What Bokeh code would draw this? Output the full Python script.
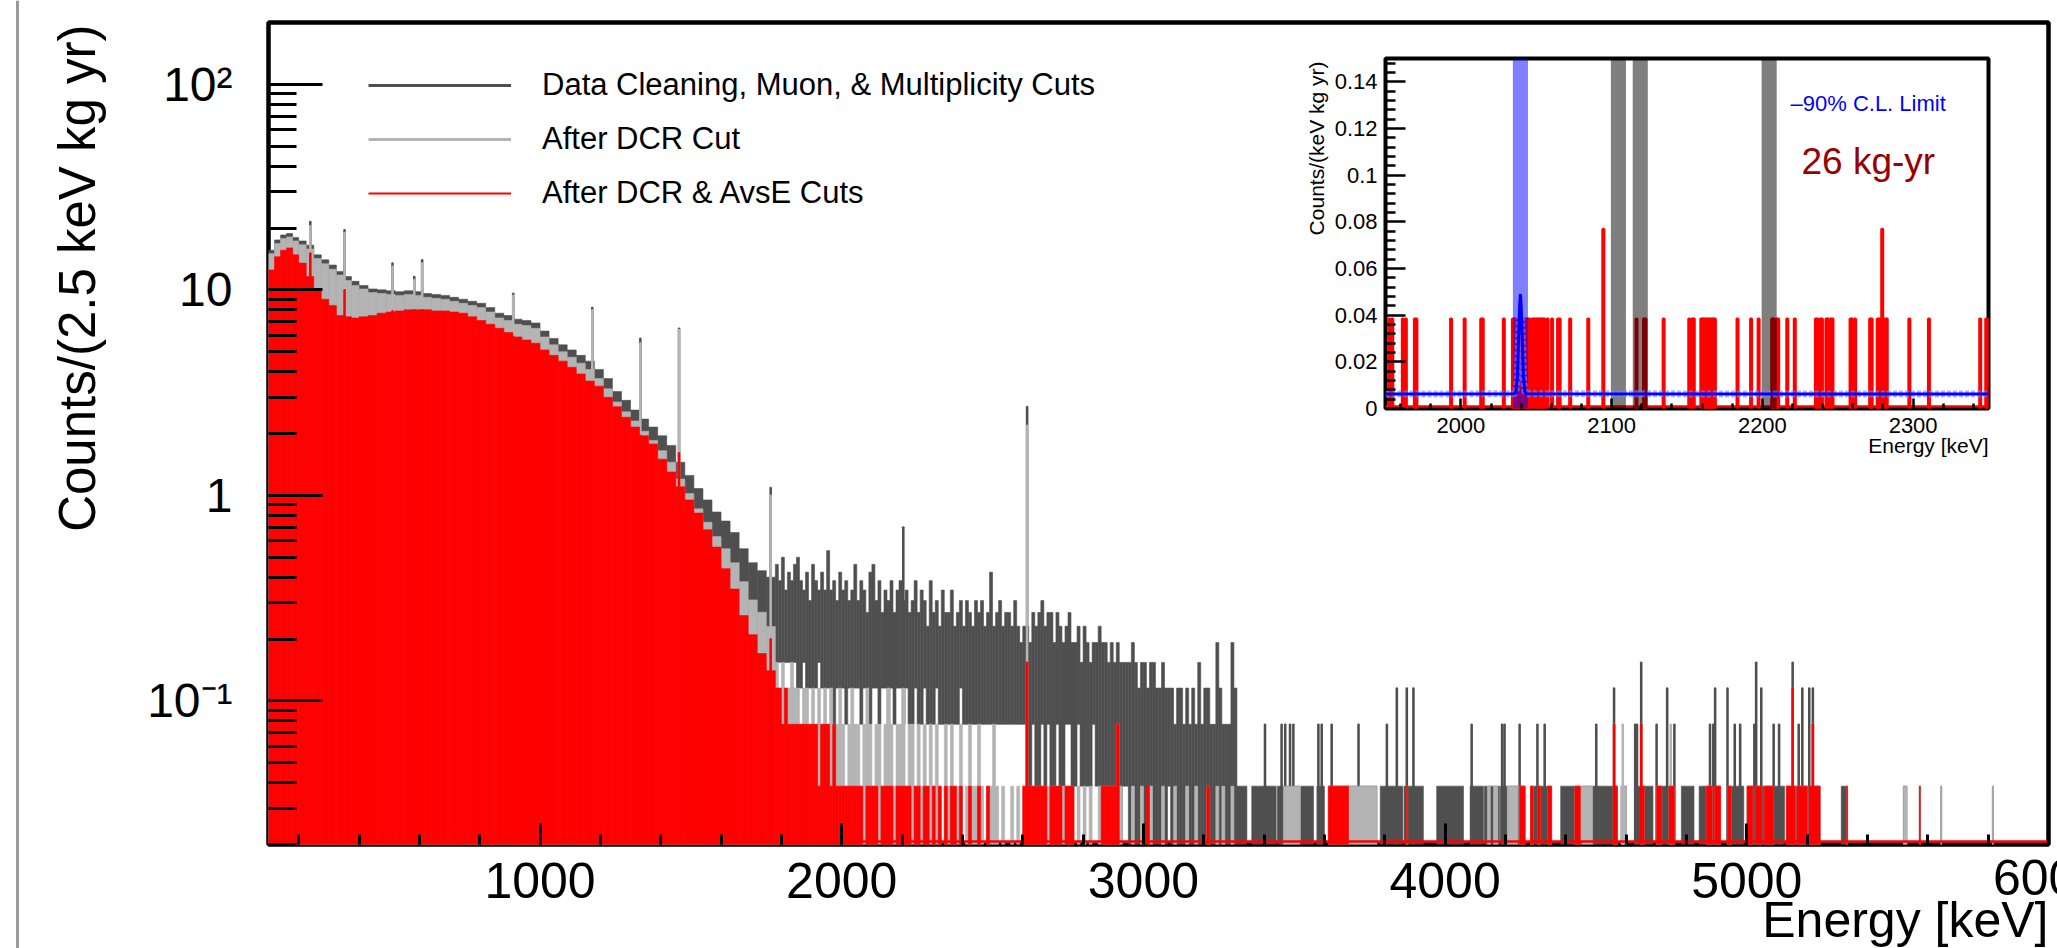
import math
from bokeh.plotting import figure
from bokeh.models import (Range1d, FixedTicker, Label, Legend, LegendItem,
                          BoxAnnotation, ColumnDataSource)
from bokeh.layouts import column
from bokeh.embed import file_html
from bokeh.resources import INLINE

FONT = "Liberation Sans"
EXPOSURE = 26.0          # kg-yr
BIN_W = 2.5              # keV, main-spectrum binning
DENSE_START = 1780.0     # keV, start of region read at 10 keV resolution
DENSE_W = 10.0
FLOOR = 1e-3             # fill floor (below the log axis minimum)

C_ALL = "#4f4f4f"
C_DCR = "#b4b4b4"
C_AVSE = "#ff0000"

# ---------------------------------------------------------------- main spectrum
# continuum below 1780 keV, counts/(2.5 keV kg yr), step edges + values
cont_edges = [100, 120, 140, 160, 180, 200, 225, 250, 275, 300, 325, 350, 375, 400,
              430, 460, 490, 520, 550, 580, 610, 640, 670, 700, 730, 760, 790, 820,
              850, 880, 910, 940, 970, 1000, 1030, 1060, 1090, 1120, 1150, 1180, 1210,
              1240, 1270, 1300, 1330, 1360, 1390, 1420, 1450, 1480, 1510, 1540, 1570,
              1600, 1630, 1660, 1690, 1720, 1750, 1780]
cont_all = [15.6, 17.5, 18.5, 18.8, 18.0, 17.3, 16.5, 14.8, 14.0, 13.2, 12.3, 11.6, 11.0,
            10.5, 10.1, 10.0, 9.9, 9.8, 9.9, 9.8, 9.6, 9.5, 9.4, 9.2, 9.0, 8.8, 8.6, 8.2,
            7.7, 7.5, 7.2, 7.1, 6.9, 6.3, 5.8, 5.4, 5.1, 4.8, 4.5, 4.1, 3.7, 3.2, 2.9,
            2.6, 2.35, 2.15, 1.95, 1.75, 1.45, 1.25, 1.08, 0.95, 0.83, 0.75, 0.66, 0.55,
            0.47, 0.43, 0.40]
cont_dcr = [15.0, 16.8, 17.8, 18.1, 17.3, 16.6, 15.8, 14.2, 13.4, 12.6, 11.8, 11.1, 10.5,
            10.1, 9.7, 9.6, 9.5, 9.4, 9.5, 9.4, 9.2, 9.1, 9.0, 8.8, 8.6, 8.4, 8.2, 7.8,
            7.3, 7.1, 6.8, 6.7, 6.5, 5.9, 5.4, 5.0, 4.7, 4.4, 4.1, 3.7, 3.3, 2.85, 2.55,
            2.3, 2.05, 1.85, 1.65, 1.45, 1.2, 1.02, 0.86, 0.74, 0.63, 0.55, 0.47, 0.38,
            0.31, 0.27, 0.23]
cont_avse = [12.5, 14.5, 15.6, 16.0, 14.8, 13.5, 11.6, 10.0, 9.0, 8.4, 7.5, 7.4, 7.3,
             7.4, 7.5, 7.7, 7.8, 7.9, 8.0, 8.0, 8.0, 7.9, 7.9, 7.8, 7.7, 7.4, 7.1, 6.8,
             6.5, 6.2, 5.9, 5.7, 5.5, 5.1, 4.8, 4.5, 4.2, 3.9, 3.6, 3.4, 3.0, 2.7, 2.4,
             2.15, 1.95, 1.78, 1.5, 1.3, 1.1, 0.95, 0.82, 0.68, 0.56, 0.44, 0.35, 0.26,
             0.21, 0.17, 0.14]

# gamma lines (single 2.5 keV bins), counts/(2.5 keV kg yr)
peak_E = [238.6, 352.0, 511.0, 583.2, 609.3, 911.2, 1173.2, 1332.5, 1460.8, 1764.5, 2204.1, 2614.5]
peak_all = [21.5, 19.6, 13.5, 11.6, 14.0, 9.6, 8.2, 5.8, 6.5, 1.09, 0.70, 2.70]
peak_dcr = [20.5, 19.0, 13.0, 11.2, 13.5, 9.4, 8.0, 5.5, 6.4, 1.00, 0.077, 2.19]
peak_avse = [15.1, 10.0, 7.9, 8.0, 8.0, 5.9, 3.4, 1.95, 1.61, 0.20, 0.038, 0.154]

# 1780-3320 keV, read per 10 keV block, in counts per 2.5 keV bin
dense_all_hi = [12, 10, 13, 9, 11, 10, 12,
                13, 10, 9, 11, 8, 12, 10, 9, 11, 9,
                14, 9, 10, 8, 11, 9, 10, 8, 9, 12,
                8, 10, 9, 7, 11, 12, 8, 10, 7, 9,
                8, 10, 7, 9, 10, 8, 9, 7, 8, 10,
                7, 9, 8, 6, 10, 7, 8, 6, 9, 7,
                7, 9, 6, 7, 8, 6, 8, 7, 6, 8,
                7, 8, 6, 7, 11, 6, 7, 8, 6, 7,
                7, 6, 8, 6, 5, 6, 6, 5, 7, 6,
                7, 8, 6, 7, 7, 5, 7, 6, 5, 6,
                7, 5, 5, 6, 4, 6, 5, 4, 5, 5,
                6, 5, 5, 4, 5, 4, 5, 4, 4, 4,
                4, 5, 4, 3, 4, 4, 3, 4, 4, 3,
                3, 4, 3, 3, 3, 2, 3, 3, 2, 3,
                2, 3, 2, 4, 2, 3, 3, 2, 2, 5,
                3, 2, 2, 2, 5, 3, 1]
dense_all_lo = [4, 4, 4, 4, 4, 4, 4,
                3, 3, 4, 3, 3, 3, 3, 4, 3, 3,
                3, 3, 2, 3, 3, 3, 2, 3, 3, 3,
                3, 2, 3, 3, 2, 3, 3, 2, 3, 3,
                2, 3, 2, 3, 3, 2, 3, 2, 2, 3,
                2, 2, 3, 2, 2, 2, 3, 2, 2, 2,
                2, 2, 2, 2, 3, 2, 2, 2, 2, 2,
                2, 2, 2, 2, 2, 2, 2, 2, 2, 2,
                2, 2, 2, 2, 2, 2, 1, 1, 2, 1,
                1, 2, 1, 2, 1, 1, 2, 1, 1, 2,
                2, 1, 1, 2, 1, 1, 1, 1, 2, 1,
                1, 1, 1, 0, 1, 1, 1, 0, 1, 1,
                0, 1, 0, 0, 1, 0, 0, 1, 0, 0,
                0, 0, 0, 1, 0, 0, 0, 0, 0, 1,
                0, 0, 1, 0, 0, 0, 0, 0, 0, 0,
                0, 0, 0, 0, 0, 0, 0]
dense_dcr = [4, 3, 4, 3, 3, 4, 3,
             3, 2, 3, 3, 2, 3, 2, 3, 2, 3,
             2, 3, 2, 2, 3, 2, 1, 2, 3, 2,
             2, 1, 2, 3, 2, 1, 2, 2, 1, 2,
             3, 2, 1, 2, 2, 3, 1, 2, 2, 1,
             2, 1, 2, 1, 2, 1, 2, 1, 0, 2,
             1, 2, 1, 1, 2, 0, 1, 2, 1, 1,
             2, 1, 0, 1, 1, 2, 1, 0, 1, 0,
             0, 1, 0, 1, 0, 1, 1, 1, 1, 1,
             1, 1, 1, 1, 1, 1, 1, 1, 1, 1,
             1, 1, 0, 1, 0, 1, 0, 1, 0, 0,
             1, 1, 1, 1, 1, 1, 2, 1, 0, 0,
             0, 1, 0, 0, 1, 0, 0, 1, 0, 0,
             0, 1, 0, 0, 0, 1, 0, 0, 0, 1,
             0, 0, 1, 0, 0, 0, 1, 0, 0, 1,
             0, 1, 0, 0, 1, 0, 0]
dense_avse = [3, 3, 2, 3, 2, 2, 2,
              2, 2, 2, 2, 2, 2, 2, 1, 2, 2,
              2, 1, 2, 1, 1, 1, 1, 1, 1, 1,
              1, 1, 0, 1, 1, 1, 1, 0, 1, 1,
              1, 1, 0, 1, 1, 1, 1, 1, 0, 1,
              1, 0, 1, 1, 0, 1, 0, 1, 0, 1,
              0, 1, 1, 0, 1, 0, 0, 1, 0, 0,
              1, 0, 0, 1, 0, 0, 0, 0, 0, 0,
              0, 0, 0, 0, 0, 1, 1, 1, 1, 1,
              1, 1, 1, 0, 1, 1, 1, 1, 0, 1,
              1, 1, 0, 0, 0, 0, 0, 0, 0, 0,
              0, 1, 1, 1, 1, 1, 2, 0, 0, 0,
              0, 0, 0, 0, 0, 0, 1, 0, 0, 0,
              0, 0, 0, 0, 0, 0, 0, 0, 0, 0,
              0, 0, 0, 0, 0, 0, 1, 0, 0, 0,
              0, 0, 0, 0, 0, 0, 0]

# sparse region above 3320 keV: runs of occupied bins (E0, E1, counts)
all_runs = [(3320, 3343, 1), (3359, 3440, 1), (3444, 3519, 1), (3522, 3564, 1),
            (3575, 3600, 1), (3613, 3680, 1), (3680, 3774, 1), (3785, 3860, 1),
            (3864, 3928, 1), (3972, 4061, 1), (4083, 4127, 1), (4130, 4180, 1),
            (4183, 4241, 1), (4247, 4265, 1), (4283, 4353, 1), (4383, 4448, 1),
            (4453, 4571, 1), (4583, 4601, 1), (4630, 4689, 1), (4701, 4760, 1),
            (4783, 4825, 1), (4842, 4913, 1), (4936, 4990, 1), (5001, 5125, 1),
            (5131, 5243, 1), (5313, 5334, 1), (5519, 5531, 1), (5572, 5575, 1),
            (5643, 5646, 1), (5814, 5817, 1)]
dcr_runs = [(3464, 3519, 1), (3613, 3680, 1), (3680, 3774, 1), (3872, 3876, 1),
            (4140, 4150, 1), (4160, 4175, 1), (4206, 4241, 1), (4247, 4265, 1),
            (4283, 4292, 1), (4306, 4316, 1), (4341, 4353, 1), (4430, 4448, 1),
            (4453, 4489, 1), (4560, 4571, 1), (4583, 4601, 1), (4648, 4660, 1),
            (4701, 4718, 1), (4742, 4760, 1), (4866, 4885, 1), (4893, 4913, 1),
            (4936, 4948, 1), (5001, 5020, 1), (5028, 5050, 1), (5058, 5089, 1),
            (5131, 5160, 1), (5166, 5200, 1), (5206, 5243, 1), (5331, 5334, 1),
            (5519, 5531, 1), (5572, 5575, 1), (5643, 5646, 1), (5814, 5817, 1)]
avse_runs = [(3613, 3680, 1), (3872, 3876, 1), (4247, 4265, 1), (4283, 4292, 1),
             (4306, 4316, 1), (4341, 4353, 1), (4430, 4448, 1), (4560, 4571, 1),
             (4648, 4660, 1), (4701, 4718, 1), (4742, 4760, 1), (4866, 4885, 1),
             (4893, 4913, 1), (4936, 4948, 1), (5001, 5020, 1), (5028, 5050, 1),
             (5058, 5089, 1), (5131, 5160, 1), (5166, 5200, 1), (5206, 5243, 1),
             (5331, 5334, 1), (5572, 5575, 1)]
# single-bin spikes (E, counts)
all_spikes = [(3403, 2), (3458, 2), (3470, 2), (3486, 2), (3497, 2), (3580, 2), (3591, 2),
              (3624, 2), (3713, 2), (3807, 2), (3840, 3), (3873, 3), (3895, 3), (4088, 2),
              (4189, 2), (4197, 2), (4247, 2), (4306, 2), (4330, 2), (4501, 2), (4560, 3),
              (4630, 2), (4636, 2), (4650, 4), (4701, 2), (4736, 3), (4760, 2), (4878, 2),
              (4889, 2), (4895, 3), (4936, 3), (4960, 2), (4978, 2), (5025, 2), (5031, 4),
              (5048, 3), (5089, 2), (5107, 2), (5152, 4), (5172, 2), (5184, 3), (5207, 3),
              (5219, 3)]
dcr_spikes = [(4560, 2), (4589, 2), (4650, 2), (4748, 2), (5152, 3), (5219, 2)]
avse_spikes = [(4560, 2), (4650, 2), (5152, 3), (5219, 2)]

# ---------------------------------------------------------------- inset (1 keV bins)
inset_E = [1952, 1954, 1961, 1963, 1969, 1970, 1993, 2002, 2013, 2014, 2028,
           2034, 2035, 2036, 2037, 2038, 2039, 2040, 2041, 2042, 2043, 2044, 2045,
           2047, 2048, 2049, 2050, 2051, 2052, 2053, 2054, 2055, 2057,
           2060, 2064, 2065, 2072, 2084, 2094, 2116, 2121, 2122, 2134,
           2151, 2153, 2154, 2159, 2160, 2161, 2162, 2163, 2164, 2165, 2166, 2167, 2168,
           2183, 2192, 2197, 2206, 2207, 2209, 2210, 2216, 2221,
           2235, 2236, 2238, 2239, 2242, 2243, 2245, 2246, 2258, 2259, 2261, 2271, 2272,
           2276, 2277, 2279, 2281, 2282, 2297, 2310, 2344, 2348, 2349]
inset_counts = [2 if e in (2094, 2279) else 1 for e in inset_E]
roi_band = (2034.5, 2044.5)
excluded_bands = [(2099.5, 2109.5), (2114.0, 2124.0), (2199.5, 2209.5)]
limit_E = [1950, 2035.5, 2036.5, 2037.5, 2038.5, 2039.0, 2039.5, 2040.0, 2040.5,
           2041.5, 2042.5, 2043.5, 2350]
limit_y = [0.0062, 0.0063, 0.0071, 0.0136, 0.034, 0.044, 0.049, 0.044, 0.034,
           0.0136, 0.0071, 0.0063, 0.0062]

W, H = 2057, 948


def no_align(fig):
    if "frame_align" in fig.properties():
        fig.frame_align = False


# ================================================================ main figure
Y_MIN, Y_MAX = 0.02, 200.0
p = figure(width=W, height=H, x_range=Range1d(100, 6000), y_range=Range1d(Y_MIN, Y_MAX),
           y_axis_type="log", output_backend="svg", toolbar_location=None,
           min_border_left=268, min_border_right=9, min_border_top=22, min_border_bottom=104)
no_align(p)
p.xgrid.visible = False
p.ygrid.visible = False
p.background_fill_color = "white"
p.border_fill_color = "white"
p.outline_line_color = "black"
p.outline_line_width = 4.5


def layer(cont_vals, peaks, dense_hi, dense_lo, runs, spikes):
    blocks = dict(left=[], right=[], top=[], bottom=[])
    lines = dict(left=[], right=[], top=[], bottom=[])
    for i, v in enumerate(cont_vals):
        blocks["left"].append(cont_edges[i]); blocks["right"].append(cont_edges[i + 1])
        blocks["top"].append(v); blocks["bottom"].append(FLOOR)
    for i, n in enumerate(dense_hi):
        if n <= 0:
            continue
        e0 = DENSE_START + i * DENSE_W
        lo = dense_lo[i] if dense_lo is not None else 0
        blocks["left"].append(e0); blocks["right"].append(e0 + DENSE_W)
        blocks["top"].append(n / EXPOSURE)
        blocks["bottom"].append(lo / EXPOSURE if lo > 0 else FLOOR)
    for e0, e1, n in runs:
        blocks["left"].append(e0); blocks["right"].append(e1)
        blocks["top"].append(n / EXPOSURE); blocks["bottom"].append(FLOOR)
    for e, v in peaks:
        lines["left"].append(e - BIN_W / 2); lines["right"].append(e + BIN_W / 2)
        lines["top"].append(v); lines["bottom"].append(FLOOR)
    for e, n in spikes:
        lines["left"].append(e - BIN_W / 2); lines["right"].append(e + BIN_W / 2)
        lines["top"].append(n / EXPOSURE); lines["bottom"].append(FLOOR)
    return blocks, lines


series = [
    (C_ALL, cont_all, list(zip(peak_E, peak_all)), dense_all_hi, dense_all_lo, all_runs, all_spikes),
    (C_DCR, cont_dcr, list(zip(peak_E, peak_dcr)), dense_dcr, None, dcr_runs, dcr_spikes),
    (C_AVSE, cont_avse, list(zip(peak_E, peak_avse)), dense_avse, None, avse_runs, avse_spikes),
]
for color, cv, pk, dh, dl, rn, sp in series:
    b, l = layer(cv, pk, dh, dl, rn, sp)
    p.quad(source=ColumnDataSource(b), left="left", right="right", top="top", bottom="bottom",
           fill_color=color, line_color=color, line_width=0.6)
    p.quad(source=ColumnDataSource(l), left="left", right="right", top="top", bottom="bottom",
           fill_color=color, line_color=color, line_width=1.8)

# zero-level outline of the AvsE histogram along the bottom
p.line(x=[p.x_range.start, p.x_range.end], y=[Y_MIN * 1.035, Y_MIN * 1.035],
       line_color=C_AVSE, line_width=2.5)

# axes
x_major = [1000, 2000, 3000, 4000, 5000, 6000]
x_minor = [e for e in range(200, 6001, 200) if e % 1000]
p.xaxis.ticker = FixedTicker(ticks=x_major, minor_ticks=x_minor)
# the last label runs off the picture's right edge; it is drawn on the overlay below
p.xaxis.major_label_overrides = {6000: ""}
y_major = [0.1, 1, 10, 100]
y_minor = [m * d for d in (0.01, 0.1, 1, 10) for m in range(2, 10)]
p.yaxis.ticker = FixedTicker(ticks=y_major, minor_ticks=y_minor)
p.yaxis.major_label_overrides = {0.1: "10\u207b\u00b9", 1: "1", 10: "10", 100: "10\u00b2"}
for ax, mj, mn, so, fs in ((p.xaxis, 21, 10, 18, "50px"), (p.yaxis, 54, 28, 36, "48px")):
    ax.axis_line_color = None
    ax.major_tick_in = mj
    ax.major_tick_out = 0
    ax.minor_tick_in = mn
    ax.minor_tick_out = 0
    ax.major_tick_line_width = 3
    ax.minor_tick_line_width = 3
    ax.major_tick_line_color = "black"
    ax.minor_tick_line_color = "black"
    ax.major_label_text_font = FONT
    ax.major_label_text_font_size = fs
    ax.major_label_text_color = "black"
    ax.major_label_standoff = so

# legend
r_all = p.line(x=[0, 1], y=[1, 1], line_color=C_ALL, line_width=3)
r_dcr = p.line(x=[0, 1], y=[1, 1], line_color=C_DCR, line_width=3)
r_avse = p.line(x=[0, 1], y=[1, 1], line_color=C_AVSE, line_width=2)
legend = Legend(items=[LegendItem(label="Data Cleaning, Muon, & Multiplicity Cuts", renderers=[r_all]),
                       LegendItem(label="After DCR Cut", renderers=[r_dcr]),
                       LegendItem(label="After DCR & AvsE Cuts", renderers=[r_avse])],
                location=(100, 633), glyph_width=143, glyph_height=30, label_height=30,
                spacing=18, label_standoff=31, padding=0, margin=0,
                border_line_alpha=0, background_fill_alpha=0,
                label_text_font=FONT, label_text_font_size="31px", label_text_color="black")
p.add_layout(legend)

# ================================================================ inset figure
IN_LEFT, IN_TOP = 1295, 50
q = figure(width=700, height=410, x_range=Range1d(1950, 2350), y_range=Range1d(0, 0.15),
           output_backend="svg", toolbar_location=None,
           min_border_left=90, min_border_right=7, min_border_top=8, min_border_bottom=52)
no_align(q)
q.margin = (IN_TOP - H, 0, 0, IN_LEFT)
q.xgrid.visible = False
q.ygrid.visible = False
q.background_fill_color = "white"
q.border_fill_color = "white"
q.outline_line_color = "black"
q.outline_line_width = 4

q.quad(left=inset_E, right=[e + 1 for e in inset_E], bottom=0,
       top=[n / EXPOSURE for n in inset_counts],
       fill_color=C_AVSE, line_color=C_AVSE, line_width=2.5)
q.line(x=[q.x_range.start, q.x_range.end], y=[0.0009, 0.0009], line_color=C_AVSE, line_width=2.5)
q.quad(left=[roi_band[0]], right=[roi_band[1]], bottom=0, top=q.y_range.end,
       fill_color="#0000ff", fill_alpha=0.5, line_color=None)
q.quad(left=[b[0] for b in excluded_bands], right=[b[1] for b in excluded_bands], bottom=0,
       top=q.y_range.end, fill_color="#000000", fill_alpha=0.5, line_color=None)
q.line(x=limit_E, y=limit_y, line_color="#8080ff", line_width=7, line_alpha=0.6, line_dash="4 2")
q.line(x=limit_E, y=limit_y, line_color="#0000ff", line_width=3)

qx_major = [2000, 2100, 2200, 2300]
qx_minor = [e for e in range(1960, 2350, 20) if e % 100]
q.xaxis.ticker = FixedTicker(ticks=qx_major, minor_ticks=qx_minor)
qy_major = [0, 0.02, 0.04, 0.06, 0.08, 0.1, 0.12, 0.14]
qy_minor = [round(0.004 * k, 3) for k in range(1, 38) if k % 5]
q.yaxis.ticker = FixedTicker(ticks=qy_major, minor_ticks=qy_minor)
q.yaxis.major_label_overrides = {v: ("%g" % v) for v in qy_major}
for ax, mj, mn, so in ((q.xaxis, 10, 5, 9), (q.yaxis, 20, 10, 8)):
    ax.axis_line_color = None
    ax.major_tick_in = mj
    ax.major_tick_out = 0
    ax.minor_tick_in = mn
    ax.minor_tick_out = 0
    ax.major_tick_line_width = 2.5
    ax.minor_tick_line_width = 2.5
    ax.major_label_text_font = FONT
    ax.major_label_text_font_size = "22px"
    ax.major_label_text_color = "black"
    ax.major_label_standoff = so

# ================================================================ text overlay
# a transparent full-page figure whose frame covers the page; x = px from left,
# y = px from the bottom of the page
o = figure(width=W, height=H, x_range=Range1d(0, W), y_range=Range1d(0, H),
           output_backend="svg", toolbar_location=None, min_border=0,
           x_axis_location=None, y_axis_location=None)
no_align(o)
o.margin = (-(H + (IN_TOP - H) + 410), 0, 0, 0)
o.xgrid.visible = False
o.ygrid.visible = False
o.outline_line_color = None
o.background_fill_color = None
o.border_fill_color = None


def txt(x, y_from_top, text, size, align="left", color="black", angle=0.0):
    o.add_layout(Label(x=x, y=H - y_from_top, text=text, angle=angle, text_align=align,
                       text_baseline="middle", text_font=FONT, text_font_size=size,
                       text_color=color))


txt(77, 24, "Counts/(2.5 keV kg yr)", "51px", align="right", angle=math.pi / 2)
txt(2048, 919, "Energy [keV]", "50px", align="right")
txt(2048, 877, "6000", "50px", align="center")
txt(1316, 61, "Counts/(keV kg yr)", "21px", align="right", angle=math.pi / 2)
txt(1988, 445, "Energy [keV]", "21px", align="right")
txt(1790, 103, "\u201390% C.L. Limit", "22px", color="#0000ff")
txt(1801, 161, "26 kg-yr", "37px", color="#990000")

# slide edge line at the far left of the picture
o.add_layout(BoxAnnotation(left=15.5, right=18.5, bottom=0, top=H,
                           fill_color="#9a9a9a", fill_alpha=1.0, line_color=None))

layout = column(p, q, o)
open("out.html", "w").write(file_html(layout, INLINE))
